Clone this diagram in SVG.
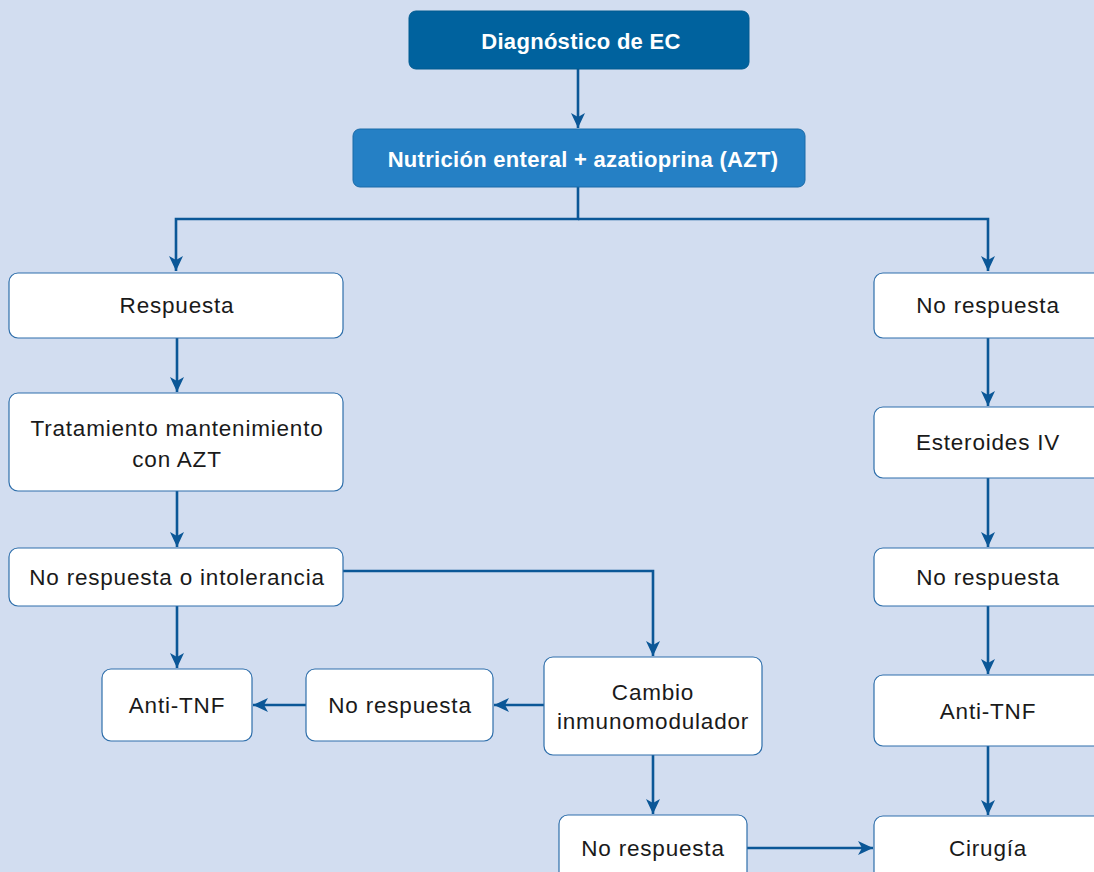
<svg xmlns="http://www.w3.org/2000/svg" width="1094" height="872" viewBox="0 0 1094 872">
<defs>
<marker id="ah" markerUnits="userSpaceOnUse" markerWidth="16" markerHeight="14" refX="15" refY="7" orient="auto">
<path d="M0,0 L15,7 L0,14 L4,7 Z" fill="#0b5797"/>
</marker>
<style>
.bx{fill:#ffffff;stroke:#2f6fab;stroke-width:1.2}
.t{font-family:"Liberation Sans",Arial,sans-serif;font-size:22.5px;fill:#1a1a1a;text-anchor:middle;letter-spacing:0.8px}
.tb{font-family:"Liberation Sans",Arial,sans-serif;font-size:22px;font-weight:bold;fill:#ffffff;text-anchor:middle;letter-spacing:0.3px}
.c{fill:none;stroke:#0b5797;stroke-width:2.6}
</style>
</defs>
<rect x="0" y="0" width="1094" height="872" fill="#d2ddf0"/>
<g id="connectors">
<path class="c" d="M578,69 V128" marker-end="url(#ah)"/>
<path class="c" d="M578,187 V219 H176 V271" marker-end="url(#ah)"/>
<path class="c" d="M578,219 H988 V271" marker-end="url(#ah)"/>
<path class="c" d="M177,338 V392" marker-end="url(#ah)"/>
<path class="c" d="M177,491 V547" marker-end="url(#ah)"/>
<path class="c" d="M177,606 V668" marker-end="url(#ah)"/>
<path class="c" d="M343,571 H653 V656" marker-end="url(#ah)"/>
<path class="c" d="M544,705 H494" marker-end="url(#ah)"/>
<path class="c" d="M306,705 H253" marker-end="url(#ah)"/>
<path class="c" d="M653,755 V814" marker-end="url(#ah)"/>
<path class="c" d="M747,848 H873" marker-end="url(#ah)"/>
<path class="c" d="M988,338 V406" marker-end="url(#ah)"/>
<path class="c" d="M988,478 V547" marker-end="url(#ah)"/>
<path class="c" d="M988,606 V674" marker-end="url(#ah)"/>
<path class="c" d="M988,746 V815" marker-end="url(#ah)"/>
</g>
<g id="diag">
<rect x="409" y="11" width="340" height="58" rx="7" fill="#00629e" stroke="#005a90"/>
<text class="tb" x="581" y="49">Diagnóstico de EC</text>
</g>
<g id="nutricion">
<rect x="353" y="129" width="452" height="58" rx="7" fill="#2580c5" stroke="#1a6aa8"/>
<text class="tb" x="583" y="167">Nutrición enteral + azatioprina (AZT)</text>
</g>
<g id="respuesta">
<rect class="bx" x="9" y="273" width="334" height="65" rx="9"/>
<text class="t" x="177" y="313">Respuesta</text>
</g>
<g id="tratamiento">
<rect class="bx" x="9" y="393" width="334" height="98" rx="9"/>
<text class="t" x="177" y="436">Tratamiento mantenimiento</text>
<text class="t" x="177" y="467">con AZT</text>
</g>
<g id="noresp-intol">
<rect class="bx" x="9" y="548" width="334" height="58" rx="9"/>
<text class="t" x="177" y="585">No respuesta o intolerancia</text>
</g>
<g id="antitnf-left">
<rect class="bx" x="102" y="669" width="150" height="72" rx="9"/>
<text class="t" x="177" y="713">Anti-TNF</text>
</g>
<g id="noresp-mid">
<rect class="bx" x="306" y="669" width="187" height="72" rx="9"/>
<text class="t" x="400" y="713">No respuesta</text>
</g>
<g id="cambio">
<rect class="bx" x="544" y="657" width="218" height="98" rx="9"/>
<text class="t" x="653" y="700">Cambio</text>
<text class="t" x="653" y="729">inmunomodulador</text>
</g>
<g id="noresp-bottom">
<rect class="bx" x="559" y="815" width="188" height="70" rx="9"/>
<text class="t" x="653" y="856">No respuesta</text>
</g>
<g id="noresp-right1">
<rect class="bx" x="874" y="273" width="230" height="65" rx="9"/>
<text class="t" x="988" y="313">No respuesta</text>
</g>
<g id="esteroides">
<rect class="bx" x="874" y="407" width="230" height="71" rx="9"/>
<text class="t" x="988" y="450">Esteroides IV</text>
</g>
<g id="noresp-right2">
<rect class="bx" x="874" y="548" width="230" height="58" rx="9"/>
<text class="t" x="988" y="585">No respuesta</text>
</g>
<g id="antitnf-right">
<rect class="bx" x="874" y="675" width="230" height="71" rx="9"/>
<text class="t" x="988" y="719">Anti-TNF</text>
</g>
<g id="cirugia">
<rect class="bx" x="874" y="816" width="230" height="70" rx="9"/>
<text class="t" x="988" y="856">Cirugía</text>
</g>
</svg>
